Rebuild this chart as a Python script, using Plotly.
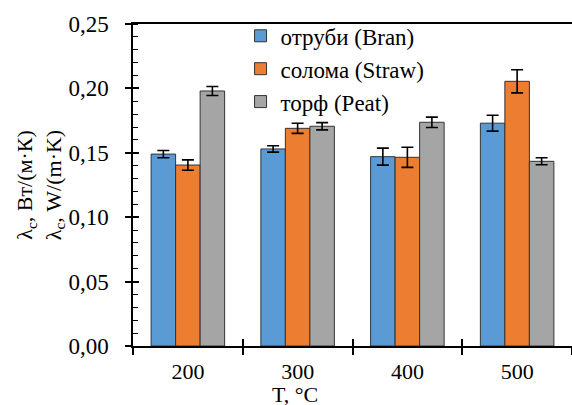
import plotly.graph_objects as go

categories = ["200", "300", "400", "500"]
bran = [0.149, 0.153, 0.147, 0.173]
bran_err = [0.0028, 0.0025, 0.0066, 0.0062]
straw = [0.1405, 0.169, 0.1465, 0.2055]
straw_err = [0.004, 0.0039, 0.0078, 0.009]
peat = [0.198, 0.1706, 0.1737, 0.1434]
peat_err = [0.0035, 0.0028, 0.004, 0.0027]
names = ["отруби (Bran)", "солома (Straw)", "торф (Peat)"]
colors = ["#5B9BD5", "#ED7D31", "#A5A5A5"]
y_title = "λ<sub>с</sub>, Вт/(м·К)<br>λ<sub>с</sub>, W/(m·K)"
x_title = "T, °C"

FONT = "Liberation Serif"
fig = go.Figure()
for i, (vals, errs) in enumerate([(bran, bran_err), (straw, straw_err), (peat, peat_err)]):
    fig.add_trace(go.Bar(
        x=categories, y=vals, name=names[i], legendgroup=f"g{i}",
        marker=dict(color=colors[i], line=dict(color="#333333", width=1)),
        error_y=dict(type="data", array=errs, visible=True, color="black", thickness=1.6, width=6),
    ))

# empty trace hosting overlay axes used for the crossing ticks
fig.add_trace(go.Scatter(x=[None], y=[None], xaxis="x2", yaxis="y2", showlegend=False, hoverinfo="skip"))

fig.update_layout(
    width=572, height=405,
    margin=dict(l=133, r=0, t=24, b=59),
    paper_bgcolor="white", plot_bgcolor="white",
    font=dict(family=FONT, size=22, color="black"),
    separators=", ",
    barmode="group", bargap=0.33, bargroupgap=0,
    showlegend=True,
    legend=dict(x=0.245, y=1.03, xanchor="left", yanchor="top", bgcolor="rgba(0,0,0,0)",
                traceorder="grouped", tracegroupgap=0, font=dict(family=FONT, size=23)),
    xaxis=dict(type="category", showline=True, linecolor="black", linewidth=1.5, mirror=True,
               ticks="outside", tickson="boundaries", ticklen=7, tickwidth=1.5, tickcolor="black",
               showgrid=False, ticklabelstandoff=5, tickfont=dict(family=FONT, size=22)),
    yaxis=dict(range=[0, 0.25], dtick=0.05, tickformat=".2f", showline=True, linecolor="black",
               linewidth=1.5, ticks="outside", ticklen=6, tickwidth=1.5, tickcolor="black",
               showgrid=False, zeroline=False, ticklabelstandoff=12, tickfont=dict(family=FONT, size=23),
               minor=dict(dtick=0.01, ticks="inside", ticklen=5, tickwidth=1.2, tickcolor="black", showgrid=False),
               title=dict(text=y_title, standoff=1, font=dict(family=FONT, size=22))),
    xaxis2=dict(overlaying="x", anchor="y2", range=[-0.5, 3.5], tickvals=[0.5, 1.5, 2.5],
                ticks="inside", ticklen=7, tickwidth=1.5, tickcolor="black", showticklabels=False,
                showgrid=False, zeroline=False, showline=False),
    yaxis2=dict(overlaying="y", anchor="x2", range=[0, 0.25], dtick=0.05, ticks="inside", ticklen=6,
                tickwidth=1.5, tickcolor="black", showticklabels=False, showgrid=False,
                zeroline=False, showline=False),
    annotations=[dict(text=x_title, xref="paper", yref="paper", x=0.369, y=-0.151,
                      xanchor="center", yanchor="middle", showarrow=False,
                      font=dict(family=FONT, size=22))],
)

fig.write_html("out.html")
